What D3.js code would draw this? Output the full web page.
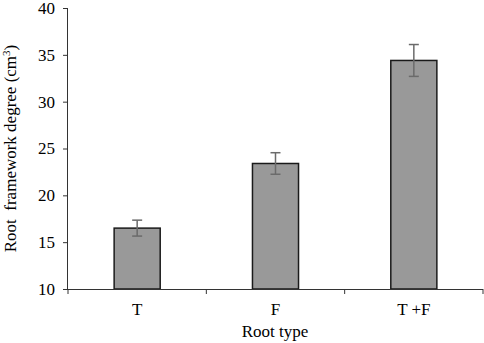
<!DOCTYPE html>
<html><head><meta charset="utf-8">
<script src="https://cdn.jsdelivr.net/npm/d3@7"></script>
<style>body{margin:0;background:#fff}svg{display:block}svg text{font-family:"Liberation Serif","Times New Roman",Times,serif !important}</style>
</head><body><svg id="c" width="484" height="343"></svg>
<script>
const categories = ["T", "F", "T +F"];
const values = [16.5, 23.4, 34.4];
const errors = [0.85, 1.15, 1.7];
const yTicks = [10, 15, 20, 25, 30, 35, 40];

const svg = d3.select("#c");
const m = {l: 68, r: 1, t: 8, b: 54};
const W = 484, H = 343;
const x = d3.scaleBand().domain(categories).range([m.l, W - m.r]).paddingInner(0).paddingOuter(0);
const y = d3.scaleLinear().domain([10, 40]).range([H - m.b, m.t]);
const bw = x.bandwidth() * 0.333;

const g = svg.append("g");
g.selectAll("rect.bar").data(values).enter().append("rect")
  .attr("x", (d, i) => x(categories[i]) + (x.bandwidth() - bw) / 2)
  .attr("y", d => y(d))
  .attr("width", bw)
  .attr("height", d => y(10) - y(d))
  .attr("fill", "#999999").attr("stroke", "#1a1a1a").attr("stroke-width", 1.5);

const eb = g.selectAll("g.err").data(values).enter().append("g")
  .attr("stroke", "#6b6b6b").attr("stroke-width", 1.5);
eb.append("line")
  .attr("x1", (d, i) => x(categories[i]) + x.bandwidth() / 2)
  .attr("x2", (d, i) => x(categories[i]) + x.bandwidth() / 2)
  .attr("y1", (d, i) => y(d + errors[i])).attr("y2", (d, i) => y(d - errors[i]));
[1, -1].forEach(s => {
  eb.append("line")
    .attr("x1", (d, i) => x(categories[i]) + x.bandwidth() / 2 - 5)
    .attr("x2", (d, i) => x(categories[i]) + x.bandwidth() / 2 + 5)
    .attr("y1", (d, i) => y(d + s * errors[i])).attr("y2", (d, i) => y(d + s * errors[i]));
});

// Y axis
const ya = svg.append("g").attr("transform", `translate(${m.l},0)`)
  .call(d3.axisLeft(y).tickValues(yTicks).tickSize(5).tickPadding(8));
ya.attr("font-size", 17);
ya.selectAll("text").attr("fill", "#000");
ya.selectAll("line,path").attr("stroke", "#333");
ya.select(".domain").attr("d", `M-0.5,${y(40)}V${y(10)}`);

// X axis
const xa = svg.append("g").attr("transform", `translate(0,${y(10)})`)
  .call(d3.axisBottom(x).tickSize(0).tickPadding(10));
xa.attr("font-size", 17);
xa.selectAll("text").attr("fill", "#000").attr("dy", null).attr("y", 26);
xa.select(".domain").attr("stroke", "#333").attr("d", `M${m.l},0.5H${W - m.r}`);
const bounds = categories.map(c => x(c)).concat([x(categories[categories.length - 1]) + x.bandwidth()]);
xa.selectAll("line.bt").data(bounds).enter().append("line").attr("class", "bt")
  .attr("x1", d => d).attr("x2", d => d).attr("y1", 0).attr("y2", 5).attr("stroke", "#333");

svg.append("text").attr("x", 275).attr("y", 337)
  .attr("text-anchor", "middle").attr("font-size", 17).text("Root type");
svg.append("text").attr("transform", `translate(16,${(y(40) + y(10)) / 2}) rotate(-90)`)
  .attr("text-anchor", "middle").attr("font-size", 17).attr("xml:space", "preserve")
  .html('Root  framework degree (cm<tspan dy="-6" font-size="11px">3</tspan><tspan dy="6">)</tspan>');
</script></body></html>
